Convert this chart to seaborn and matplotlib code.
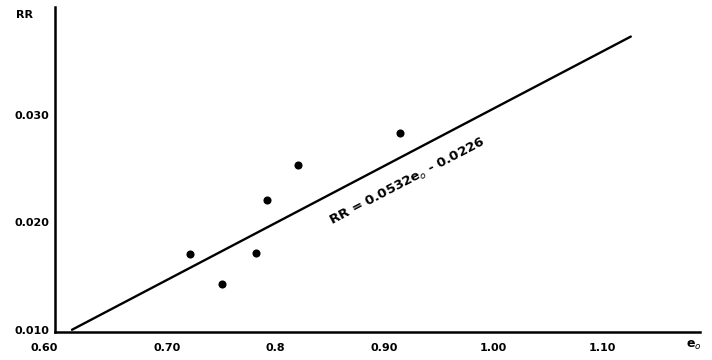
import numpy as np
import pandas as pd
import matplotlib
matplotlib.use("Agg")
import matplotlib.pyplot as plt
import seaborn as sns

# measured points: void ratio e0 vs RR
e0 = [0.721, 0.751, 0.782, 0.792, 0.821, 0.914]
rr = [0.0171, 0.0143, 0.0172, 0.0221, 0.0254, 0.0283]

# fitted relation RR = 0.0532 e0 - 0.0226
slope = 0.0532
intercept = -0.0226
fit_start = 0.6128
fit_end = 1.1265

x_ticks = [0.60, 0.70, 0.80, 0.90, 1.00, 1.10]
x_labels = ["0.60", "0.70", "0.8", "0.90", "1.00", "1.10"]
y_ticks = [0.010, 0.020, 0.030]
y_labels = ["0.010", "0.020", "0.030"]

sns.set_style("white")
plt.rcParams["font.family"] = ["DejaVu Sans"]
plt.rcParams["text.color"] = "black"
plt.rcParams["xtick.color"] = "black"
plt.rcParams["ytick.color"] = "black"

fig = plt.figure(figsize=(7.12, 3.6), dpi=100)
ax = fig.add_axes([0.077, 0.078, 0.906, 0.903])

pts = pd.DataFrame({"e0": e0, "RR": rr})
sns.scatterplot(data=pts, x="e0", y="RR", ax=ax, color="black",
                s=34, edgecolor="black", linewidth=0, zorder=3)

fit = pd.DataFrame({"e0": [fit_start, fit_end]})
fit["RR"] = slope * fit["e0"] + intercept
sns.lineplot(data=fit, x="e0", y="RR", ax=ax, color="black", linewidth=1.7)

ax.set_xlim(0.597, 1.19)
ax.set_ylim(0.0098, 0.0401)
ax.set_xticks(x_ticks)
ax.set_xticklabels(x_labels, fontsize=8, fontweight="bold")
ax.set_yticks(y_ticks)
ax.set_yticklabels(y_labels, fontsize=8, fontweight="bold")
ax.tick_params(axis="x", direction="in", length=4, width=1.2, pad=8)
ax.tick_params(axis="y", direction="in", length=5, width=1.5, pad=4)
ax.get_xticklabels()[0].set_horizontalalignment("right")
ax.set_xlabel("")
ax.set_ylabel("")

for side in ("top", "right"):
    ax.spines[side].set_visible(False)
for side in ("left", "bottom"):
    ax.spines[side].set_linewidth(1.8)
    ax.spines[side].set_color("black")

# axis names
fig.text(0.035, 0.958, "RR", fontsize=8, fontweight="bold", ha="center", va="center")
fig.text(0.985, 0.04, "e$_o$", fontsize=9, fontweight="bold", ha="right", va="center")

# equation label running parallel to the fitted line
fig.canvas.draw()
p0 = ax.transData.transform((fit_start, slope * fit_start + intercept))
p1 = ax.transData.transform((fit_end, slope * fit_end + intercept))
angle = np.degrees(np.arctan2(p1[1] - p0[1], p1[0] - p0[0]))
ax.text(0.921, 0.0238, "RR = 0.0532e$_o$ - 0.0226", rotation=angle,
        rotation_mode="anchor", ha="center", va="center",
        fontsize=9.5, fontweight="bold")

fig.savefig("out.png", dpi=100)
